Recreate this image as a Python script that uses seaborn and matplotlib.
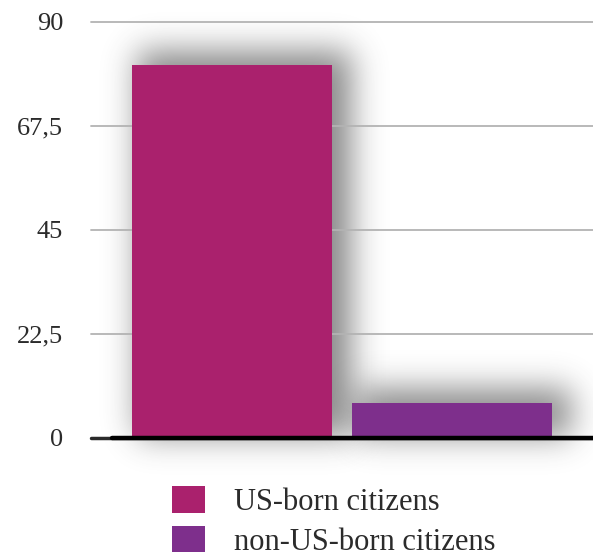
import numpy as np
import pandas as pd
import matplotlib
matplotlib.use("Agg")
import matplotlib.pyplot as plt
from matplotlib.patches import Patch
import seaborn as sns

# Share of citizens by place of birth
groups = ["US-born citizens", "non-US-born citizens"]
values = [80.8, 7.6]
colors = ["#AA216D", "#7E2F8C"]
yticks = [0, 22.5, 45, 67.5, 90]
ytick_labels = ["0", "22,5", "45", "67,5", "90"]

df = pd.DataFrame({"category": ["all"] * len(groups), "group": groups, "value": values})

sns.set_theme(style="white")
plt.rcParams["font.family"] = ["Liberation Serif", "DejaVu Serif"]


class DropShadow:
    """Agg filter: spread, offset and blurred grey copy of an artist."""

    def __init__(self, sigma=16, spread=6, dx=12, dy=-8, alpha=0.62, shade=0.25):
        self.sigma, self.spread = sigma, spread
        self.dx, self.dy = dx, dy
        self.alpha, self.shade = alpha, shade

    def _dilate(self, a):
        s = self.spread
        out = a.copy()
        for k in range(1, s + 1):
            out = np.maximum(out, np.roll(a, k, axis=1))
            out = np.maximum(out, np.roll(a, -k, axis=1))
        b = out.copy()
        for k in range(1, s + 1):
            out = np.maximum(out, np.roll(b, k, axis=0))
            out = np.maximum(out, np.roll(b, -k, axis=0))
        return out

    def _blur(self, a):
        r = int(3 * self.sigma)
        x = np.arange(-r, r + 1)
        k = np.exp(-0.5 * (x / self.sigma) ** 2)
        k /= k.sum()
        a = np.apply_along_axis(lambda m: np.convolve(m, k, mode="same"), 0, a)
        a = np.apply_along_axis(lambda m: np.convolve(m, k, mode="same"), 1, a)
        return a

    def __call__(self, im, dpi):
        pad = int(3 * self.sigma) + self.spread + max(abs(self.dx), abs(self.dy)) + 2
        src = np.pad(im, [(pad, pad), (pad, pad), (0, 0)], "constant")
        a = self._dilate(src[..., 3])
        a = np.roll(a, self.dx, axis=1)
        a = np.roll(a, self.dy, axis=0)
        a = self._blur(a)
        out = np.zeros_like(src)
        out[..., :3] = self.shade
        out[..., 3] = np.clip(a * self.alpha, 0, 1)
        return out, -pad, -pad


fig = plt.figure(figsize=(5.93, 5.56), dpi=100)
ax = fig.add_axes([91 / 593, 118 / 556, 502 / 593, 416 / 556])

# shadow layer under the bars (and under the grid)
sns.barplot(data=df, x="category", y="value", hue="group", hue_order=groups,
            palette=["#000000", "#000000"], saturation=1, width=0.874, gap=0.09,
            legend=False, ax=ax, errorbar=None)
shadow = DropShadow()
for p in ax.patches:
    p.set_agg_filter(shadow)
    p.set_rasterized(True)
    p.set_zorder(0.2)
n_shadow = len(ax.patches)

sns.barplot(data=df, x="category", y="value", hue="group", hue_order=groups,
            palette=colors, saturation=1, width=0.874, gap=0.09,
            legend=False, ax=ax, errorbar=None)
for p in ax.patches[n_shadow:]:
    p.set_edgecolor("none")
    p.set_zorder(2)

ax.set_xlim(-0.5, 0.5)
ax.set_ylim(0, 90)
ax.set_yticks(yticks)
ax.set_yticklabels(ytick_labels)
ax.set_xticks([])
ax.set_xlabel("")
ax.set_ylabel("")
for s in ax.spines.values():
    s.set_visible(False)

ax.yaxis.grid(True, color="#b3b3b3", linewidth=1.3)
ax.set_axisbelow(True)
for gl in ax.yaxis.get_gridlines():
    gl.set_clip_on(False)
ax.yaxis.get_gridlines()[0].set_color("#2a2a2a")
ax.yaxis.get_gridlines()[0].set_linewidth(2.5)

ax.axhline(0, xmin=21 / 502, xmax=1, color="black", linewidth=3.2,
           clip_on=False, zorder=3)

ax.tick_params(axis="y", length=0, pad=20, labelsize=19, labelcolor="#2b2b2b")

handles = [Patch(facecolor=c, edgecolor="none") for c in colors]
fig.legend(handles, groups, loc="upper left", bbox_to_anchor=(0.244, 0.175),
           frameon=False, fontsize=22, handlelength=1.08, handleheight=0.95,
           handletextpad=0.95, labelspacing=0.3, labelcolor="#2b2b2b")

fig.savefig("out.png", dpi=100)
